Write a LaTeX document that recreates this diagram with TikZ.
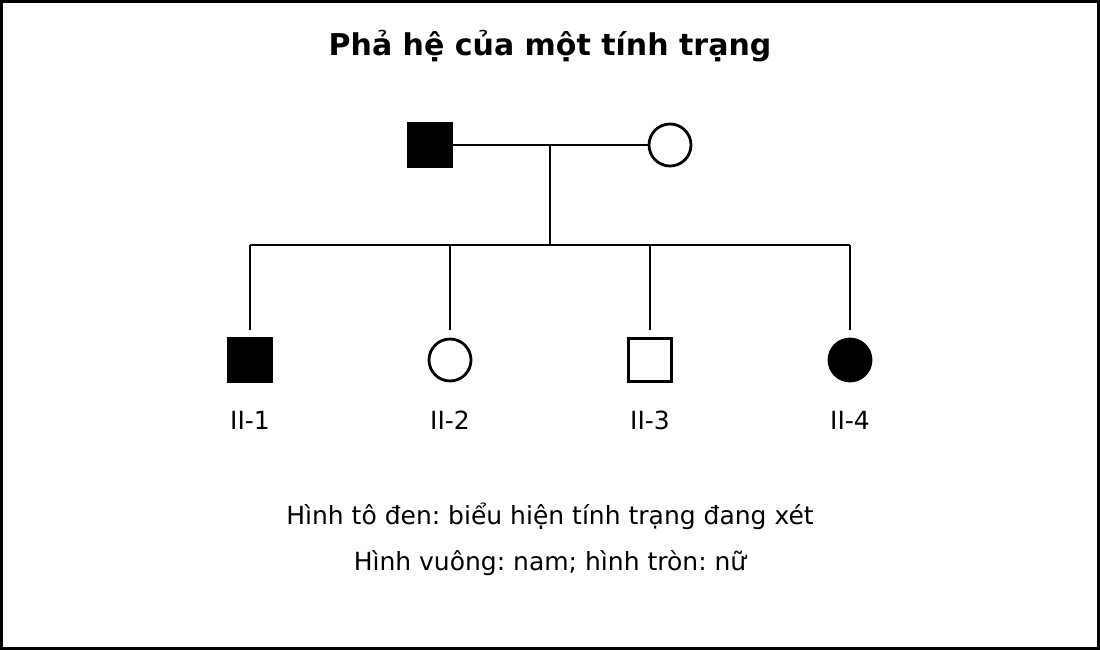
\documentclass[tikz,border=0pt]{standalone}
\usepackage{fontspec}
\setmainfont{DejaVu Sans}
\begin{document}
\frenchspacing
\begin{tikzpicture}[x=1pt,y=-1pt,
  ln/.style={line width=2.8pt},
  male/.style={draw,line width=2.8pt,minimum size=43pt,inner sep=0pt,rectangle},
  female/.style={draw,line width=2.8pt,minimum size=42pt,inner sep=0pt,circle},
  aff/.style={fill=black},
  lab/.style={font=\fontsize{25}{30}\selectfont}]
\useasboundingbox (0,0) rectangle (1100,650);
\draw[line width=3pt] (1.5,1.5) rectangle (1098.5,648.5);
\node[font=\fontsize{30}{36}\selectfont\bfseries] (title) at (550,46) {Phả hệ của một tính trạng};
\node[male,aff] (f) at (430,145) {};
\node[female,fill=white] (m) at (670,145) {};
\coordinate (mid) at (550,145);
\coordinate (sib) at (550,245);
\coordinate (s1) at (250,245);
\coordinate (s2) at (450,245);
\coordinate (s3) at (650,245);
\coordinate (s4) at (850,245);
\node[male,aff] (c1) at (250,360) {};
\node[female] (c2) at (450,360) {};
\node[male] (c3) at (650,360) {};
\node[female,aff] (c4) at (850,360) {};
\draw[ln] (f) -- (m);
\draw[ln] (mid) -- (sib);
\draw[ln] (s1) -- (s4);
\draw[ln] (s1) -- (250,330);
\draw[ln] (s2) -- (450,330);
\draw[ln] (s3) -- (650,330);
\draw[ln] (s4) -- (850,330);
\node[lab] (l1) at (250,420) {II-1};
\node[lab] (l2) at (450,420) {II-2};
\node[lab] (l3) at (650,420) {II-3};
\node[lab] (l4) at (850,420) {II-4};
\node[lab] (t1) at (550,516) {Hình tô đen: biểu hiện tính trạng đang xét};
\node[lab] (t2) at (550,563) {Hình vuông: nam; hình tròn: nữ};
\end{tikzpicture}
\end{document}
